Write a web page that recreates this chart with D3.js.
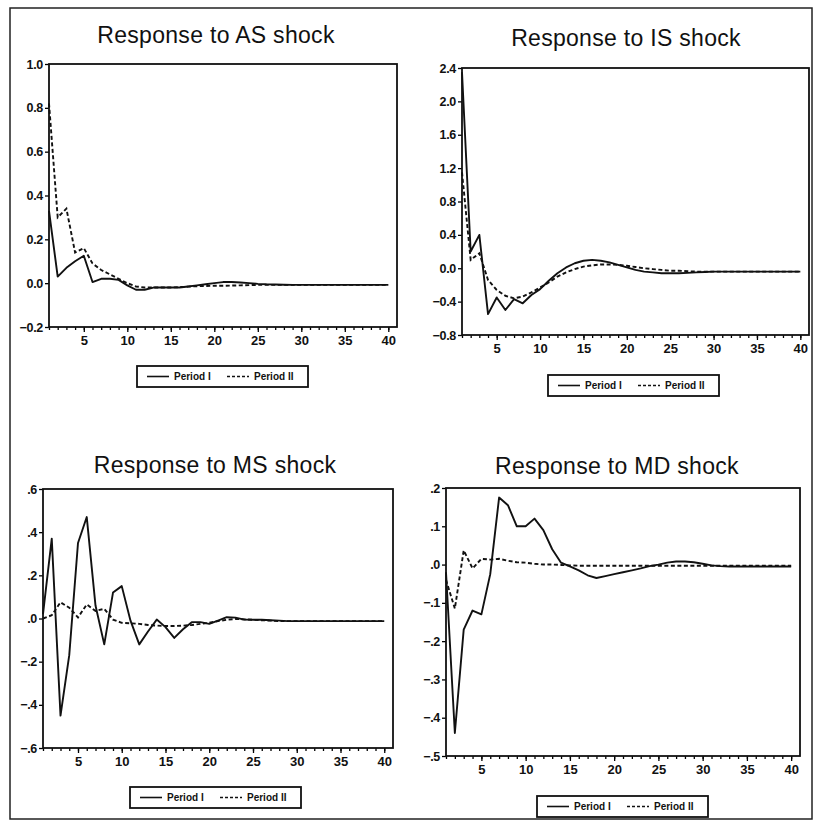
<!DOCTYPE html>
<html>
<head>
<meta charset="utf-8">
<script src="https://cdn.jsdelivr.net/npm/d3@7"></script>
<style>
	body { margin: 0; background: #fff; }
	svg { display: block; }
</style>
</head>
<body>
<div id="box"></div>
<script>
// impulse responses, periods 1..40
const periods = d3.range(1, 41);

const asP1 = [0.33, 0.03, 0.07, 0.10, 0.125, 0.005, 0.02, 0.02, 0.015, -0.01,
	-0.03, -0.03, -0.02, -0.02, -0.02, -0.02, -0.015, -0.01, -0.005, 0.0,
	0.005, 0.005, 0.003, 0.0, -0.003, -0.005, -0.006, -0.007, -0.008, -0.008,
	-0.008, -0.008, -0.008, -0.008, -0.008, -0.008, -0.008, -0.008, -0.008, -0.008];
const asP2 = [0.82, 0.30, 0.34, 0.14, 0.16, 0.09, 0.06, 0.04, 0.02, 0.0,
	-0.015, -0.02, -0.02, -0.02, -0.02, -0.018, -0.016, -0.014, -0.013, -0.012,
	-0.012, -0.011, -0.01, -0.009, -0.008, -0.008, -0.008, -0.008, -0.008, -0.008,
	-0.008, -0.008, -0.008, -0.008, -0.008, -0.008, -0.008, -0.008, -0.008, -0.008];

const isP1 = [2.35, 0.2, 0.4, -0.55, -0.35, -0.5, -0.37, -0.42, -0.32, -0.25,
	-0.15, -0.06, 0.01, 0.06, 0.09, 0.1, 0.09, 0.07, 0.04, 0.01,
	-0.02, -0.04, -0.05, -0.06, -0.06, -0.06, -0.055, -0.05, -0.045, -0.04,
	-0.04, -0.04, -0.04, -0.04, -0.04, -0.04, -0.04, -0.04, -0.04, -0.04];
const isP2 = [1.15, 0.1, 0.18, -0.14, -0.26, -0.33, -0.36, -0.34, -0.29, -0.23,
	-0.17, -0.1, -0.05, -0.01, 0.02, 0.035, 0.045, 0.045, 0.04, 0.03,
	0.015, 0.0, -0.01, -0.02, -0.03, -0.03, -0.035, -0.04, -0.04, -0.04,
	-0.04, -0.04, -0.04, -0.04, -0.04, -0.04, -0.04, -0.04, -0.04, -0.04];

const msP1 = [0.02, 0.37, -0.45, -0.17, 0.35, 0.47, 0.06, -0.12, 0.12, 0.15,
	-0.01, -0.12, -0.06, -0.005, -0.04, -0.09, -0.05, -0.017, -0.017, -0.025,
	-0.01, 0.006, 0.004, -0.005, -0.006, -0.006, -0.008, -0.01, -0.012, -0.012,
	-0.012, -0.012, -0.012, -0.012, -0.012, -0.012, -0.012, -0.012, -0.012, -0.012];
const msP2 = [0.0, 0.015, 0.075, 0.05, 0.005, 0.065, 0.035, 0.045, -0.005, -0.02,
	-0.022, -0.025, -0.03, -0.033, -0.035, -0.035, -0.033, -0.03, -0.025, -0.02,
	-0.012, -0.006, -0.002, -0.004, -0.006, -0.008, -0.01, -0.012, -0.012, -0.012,
	-0.012, -0.012, -0.012, -0.012, -0.012, -0.012, -0.012, -0.012, -0.012, -0.012];

const mdP1 = [-0.02, -0.44, -0.17, -0.12, -0.13, -0.025, 0.175, 0.155, 0.1, 0.1,
	0.12, 0.09, 0.04, 0.005, -0.005, -0.015, -0.028, -0.035, -0.03, -0.025,
	-0.02, -0.015, -0.01, -0.004, 0.0, 0.005, 0.008, 0.008, 0.006, 0.002,
	-0.002, -0.004, -0.005, -0.005, -0.005, -0.005, -0.005, -0.005, -0.005, -0.005];
const mdP2 = [-0.04, -0.115, 0.037, -0.01, 0.015, 0.013, 0.015, 0.01, 0.006, 0.005,
	0.002, 0.0, 0.0, -0.001, -0.002, -0.003, -0.003, -0.003, -0.003, -0.003,
	-0.003, -0.003, -0.003, -0.003, -0.003, -0.003, -0.003, -0.003, -0.003, -0.003,
	-0.003, -0.003, -0.003, -0.003, -0.003, -0.003, -0.003, -0.003, -0.003, -0.003];

const titles = ['Response to AS shock', 'Response to IS shock', 'Response to MS shock', 'Response to MD shock'];
const asTicks = [-0.2, 0.0, 0.2, 0.4, 0.6, 0.8, 1.0];
const isTicks = [-0.8, -0.4, 0.0, 0.4, 0.8, 1.2, 1.6, 2.0, 2.4];
const msTicks = [-0.6, -0.4, -0.2, 0.0, 0.2, 0.4, 0.6];
const mdTicks = [-0.5, -0.4, -0.3, -0.2, -0.1, 0.0, 0.1, 0.2];
const xTicks = [5, 10, 15, 20, 25, 30, 35, 40];
const seriesNames = ['Period I', 'Period II'];

const noLead = v => d3.format('.1f')(v).replace('0.', '.');
const font = '"Liberation Sans", Arial, sans-serif';

const panels = [
	{ title: titles[0], p1: asP1, p2: asP2, ticks: asTicks, fmt: d3.format('.1f'),
		left: 49, right: 397, top: 64, bottom: 327, titleX: 216, titleY: 43, legX: 137, legY: 366 },
	{ title: titles[1], p1: isP1, p2: isP2, ticks: isTicks, fmt: d3.format('.1f'),
		left: 462, right: 809, top: 68, bottom: 335, titleX: 626, titleY: 46, legX: 548, legY: 375 },
	{ title: titles[2], p1: msP1, p2: msP2, ticks: msTicks, fmt: noLead,
		left: 43, right: 393, top: 489, bottom: 748, titleX: 215, titleY: 473, legX: 130, legY: 787 },
	{ title: titles[3], p1: mdP1, p2: mdP2, ticks: mdTicks, fmt: noLead,
		left: 446, right: 800, top: 488, bottom: 756, titleX: 617, titleY: 474, legX: 537, legY: 796 },
];

const width = 816;
const height = 828;

const svg = d3.select('#box').append('svg')
	.attr('width', width)
	.attr('height', height)
	.attr('viewBox', [0, 0, width, height]);

svg.append('rect')
	.attr('width', width).attr('height', height).attr('fill', '#fff');

// outer frame
svg.append('rect')
	.attr('x', 10).attr('y', 8)
	.attr('width', 802).attr('height', 811)
	.attr('fill', 'none')
	.attr('stroke', '#222')
	.attr('stroke-width', 1.5);

for (const p of panels) {

	const x = d3.scaleLinear([1, 41], [p.left, p.right]);
	const y = d3.scaleLinear([p.ticks[0], p.ticks[p.ticks.length - 1]], [p.bottom, p.top]);

	const g = svg.append('g');

	g.append('text')
		.attr('x', p.titleX)
		.attr('y', p.titleY)
		.attr('text-anchor', 'middle')
		.attr('font-family', font)
		.attr('font-size', 23)
		.attr('letter-spacing', 0.3)
		.attr('fill', '#111')
		.text(p.title);

	// minor ticks each period
	g.append('g')
		.attr('transform', `translate(0,${p.bottom})`)
		.call(d3.axisBottom(x).tickValues(periods).tickSize(3).tickFormat(''))
		.call(a => a.select('.domain').remove())
		.call(a => a.selectAll('line').attr('stroke-width', 1.3));

	g.append('g')
		.attr('transform', `translate(0,${p.bottom})`)
		.call(d3.axisBottom(x).tickValues(xTicks).tickSize(5).tickPadding(4).tickFormat(d3.format('d')))
		.call(a => a.select('.domain').remove())
		.call(a => a.selectAll('line').attr('stroke-width', 1.3))
		.call(a => a.selectAll('text')
			.attr('fill', '#111')
			.attr('font-family', font)
			.attr('font-weight', 'bold')
			.attr('font-size', 13));

	g.append('g')
		.attr('transform', `translate(${p.left},0)`)
		.call(d3.axisLeft(y).tickValues(p.ticks).tickSize(4).tickPadding(2).tickFormat(p.fmt))
		.call(a => a.select('.domain').remove())
		.call(a => a.selectAll('line').attr('stroke-width', 1.3))
		.call(a => a.selectAll('text')
			.attr('fill', '#111')
			.attr('font-family', font)
			.attr('font-weight', 'bold')
			.attr('font-size', 12.5)
			.attr('letter-spacing', -0.3));

	g.append('rect')
		.attr('x', p.left).attr('y', p.top)
		.attr('width', p.right - p.left).attr('height', p.bottom - p.top)
		.attr('fill', 'none')
		.attr('stroke', '#111')
		.attr('stroke-width', 1.8);

	const line = d3.line()
		.x((_, i) => x(periods[i]))
		.y(v => y(v));

	g.append('path')
		.attr('fill', 'none')
		.attr('stroke', '#111')
		.attr('stroke-width', 1.9)
		.attr('stroke-linejoin', 'round')
		.attr('d', line(p.p1));

	g.append('path')
		.attr('fill', 'none')
		.attr('stroke', '#111')
		.attr('stroke-width', 1.9)
		.attr('stroke-dasharray', '4,2.5')
		.attr('d', line(p.p2));

	// legend
	const lg = g.append('g').attr('transform', `translate(${p.legX},${p.legY})`);
	lg.append('rect')
		.attr('width', 171).attr('height', 21)
		.attr('fill', '#fff')
		.attr('stroke', '#111')
		.attr('stroke-width', 1.8);
	const items = [[10, null], [90, '3,2']];
	items.forEach(([lx, dash], i) => {
		lg.append('line')
			.attr('x1', lx).attr('x2', lx + 22)
			.attr('y1', 10.5).attr('y2', 10.5)
			.attr('stroke', '#111')
			.attr('stroke-width', 1.6)
			.attr('stroke-dasharray', dash);
		lg.append('text')
			.attr('x', lx + 27).attr('y', 14)
			.attr('font-family', font)
			.attr('font-size', 10)
			.attr('font-weight', 'bold')
			.attr('fill', '#111')
			.text(seriesNames[i]);
	});
}
</script>
</body>
</html>
